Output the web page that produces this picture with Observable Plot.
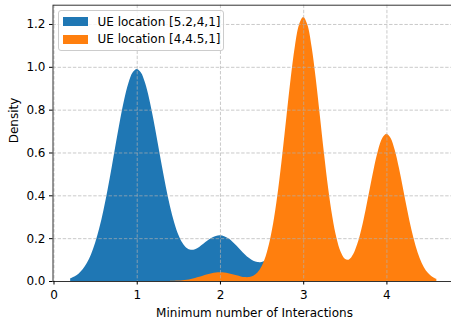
<!DOCTYPE html>
<html>
<head>
<meta charset="utf-8">
<script src="https://cdn.jsdelivr.net/npm/d3@7"></script>
<script src="https://cdn.jsdelivr.net/npm/@observablehq/plot@0.6"></script>
<style>
html, body { margin: 0; padding: 0; background: #fff; overflow: hidden; }
#wrap { position: relative; width: 451px; height: 323px; overflow: hidden; font-family: "DejaVu Sans"; }
#wrap svg { overflow: hidden; display: block; }
.lg { position: absolute; left: 57.5px; top: 10px; width: 166px; height: 40.5px; box-sizing: border-box;
      border: 1px solid #cccccc; border-radius: 3px; background: rgba(255,255,255,0.8); }
.sw { position: absolute; width: 25px; height: 9px; }
.lt { position: absolute; font-family: "DejaVu Sans"; font-size: 12px; line-height: 12px; white-space: nowrap; color: #000; }
</style>
</head>
<body>
<div id="wrap"></div>
<script>
// Series names
const seriesNames = ["UE location [5.2,4,1]", "UE location [4,4.5,1]"];
const seriesColors = ["#1f77b4", "#ff7f0e"];
const xLabel = "Minimum number of Interactions";
const yLabel = "Density";
const xTicks = [0, 1, 2, 3, 4];
const yTicks = [0, 0.2, 0.4, 0.6, 0.8, 1.0, 1.2];

// Blue density curve
const blueX = [0.20,0.25,0.30,0.35,0.40,0.45,0.50,0.55,0.60,0.65,0.70,0.75,0.80,0.85,0.90,0.95,
  1.00,1.05,1.10,1.15,1.20,1.25,1.30,1.35,1.40,1.45,1.50,1.55,1.60,1.65,1.70,1.75,1.80,1.85,1.90,1.95,
  2.00,2.05,2.10,2.15,2.20,2.25,2.30,2.35,2.40,2.45,2.50,2.55,2.60,2.65,2.70,2.75,2.80,2.85,2.90,2.95,
  3.00,3.05,3.10,3.15,3.20,3.25,3.30,3.35,3.40,3.45,3.50,3.55,3.60,3.65,3.70,3.75,3.80];
const blueY = [0.0123,0.0209,0.0344,0.0545,0.0839,0.1243,0.1782,0.2469,0.3304,0.4273,0.5340,0.6449,0.7525,0.8484,0.9244,0.9732,
  0.9902,0.9736,0.9252,0.8499,0.7551,0.6494,0.5414,0.4390,0.3484,0.2735,0.2164,0.1772,0.1546,0.1460,0.1488,0.1590,0.1734,0.1887,0.2018,0.2105,
  0.2133,0.2095,0.1992,0.1838,0.1646,0.1441,0.1242,0.1071,0.0947,0.0884,0.0891,0.0972,0.1124,0.1338,0.1601,0.1888,0.2177,0.2440,0.2650,0.2786,
  0.2832,0.2783,0.2643,0.2425,0.2151,0.1843,0.1527,0.1221,0.0944,0.0706,0.0509,0.0355,0.0240,0.0156,0.0098,0.0060,0.0035];

// Orange density curve
const orangeX = [1.40,1.45,1.50,1.55,1.60,1.65,1.70,1.75,1.80,1.85,1.90,1.95,
  2.00,2.05,2.10,2.15,2.20,2.25,2.30,2.35,2.40,2.45,2.50,2.55,2.60,2.65,2.70,2.75,2.80,2.85,2.90,2.95,
  3.00,3.05,3.10,3.15,3.20,3.25,3.30,3.35,3.40,3.45,3.50,3.55,3.60,3.65,3.70,3.75,3.80,3.85,3.90,3.95,
  4.00,4.05,4.10,4.15,4.20,4.25,4.30,4.35,4.40,4.45,4.50,4.55,4.60];
const orangeY = [0.0006,0.0012,0.0022,0.0039,0.0063,0.0098,0.0143,0.0198,0.0257,0.0315,0.0365,0.0398,
  0.0410,0.0398,0.0366,0.0318,0.0264,0.0215,0.0184,0.0187,0.0248,0.0400,0.0689,0.1173,0.1911,0.2954,0.4312,0.5942,0.7726,0.9475,1.0964,1.1966,
  1.2320,1.1966,1.0965,0.9477,0.7730,0.5952,0.4334,0.3001,0.2008,0.1362,0.1039,0.1008,0.1247,0.1734,0.2445,0.3330,0.4315,0.5287,0.6115,0.6673,
  0.6870,0.6673,0.6114,0.5284,0.4308,0.3313,0.2404,0.1645,0.1062,0.0647,0.0372,0.0201,0.0103];

const blue = blueX.map((x, i) => ({x, y: blueY[i]}));
const orange = orangeX.map((x, i) => ({x, y: orangeY[i]}));

const gridStyle = {stroke: "#b0b0b0", strokeOpacity: 0.75, strokeWidth: 0.9, strokeDasharray: "3.4,1.7"};

const chart = Plot.plot({
  width: 451,
  height: 323,
  marginLeft: 52.5,
  marginRight: -4.5,
  marginTop: 4.7,
  marginBottom: 42,
  style: {fontFamily: "DejaVu Sans", fontSize: "12px", color: "black", background: "white", overflow: "hidden"},
  x: {domain: [-0.012, 4.83]},
  y: {domain: [0, 1.29]},
  marks: [
    Plot.areaY(blue, {x: "x", y: "y", fill: seriesColors[0], curve: "catmull-rom"}),
    Plot.areaY(orange, {x: "x", y: "y", fill: seriesColors[1], curve: "catmull-rom"}),
    Plot.gridX(xTicks, gridStyle),
    Plot.gridY(yTicks, gridStyle),
    Plot.frame({stroke: "#333", strokeWidth: 1}),
    Plot.axisX(xTicks, {tickSize: 3.5, tickPadding: 5, tickFormat: d => String(d), label: null}),
    Plot.axisY(yTicks, {tickSize: 3.5, tickPadding: 4, tickFormat: d3.format(".1f"), label: null}),
    Plot.text([xLabel], {text: d => d, frameAnchor: "bottom", dy: 35, lineAnchor: "bottom", fontSize: 12}),
    Plot.text([yLabel], {text: d => d, frameAnchor: "left", dx: -39, rotate: -90, lineAnchor: "middle", fontSize: 12})
  ]
});

const wrap = document.getElementById("wrap");
wrap.appendChild(chart);

// Legend (HTML overlay in upper-left corner)
const lg = document.createElement("div");
lg.className = "lg";
wrap.appendChild(lg);
const rowsTop = [17.3, 34.7];
const textTop = [15.7, 33.3];
seriesNames.forEach((name, i) => {
  const sw = document.createElement("div");
  sw.className = "sw";
  sw.style.left = "62.7px";
  sw.style.top = rowsTop[i] + "px";
  sw.style.background = seriesColors[i];
  wrap.appendChild(sw);
  const t = document.createElement("div");
  t.className = "lt";
  t.style.left = "97.5px";
  t.style.top = textTop[i] + "px";
  t.textContent = name;
  wrap.appendChild(t);
});
</script>
</body>
</html>
